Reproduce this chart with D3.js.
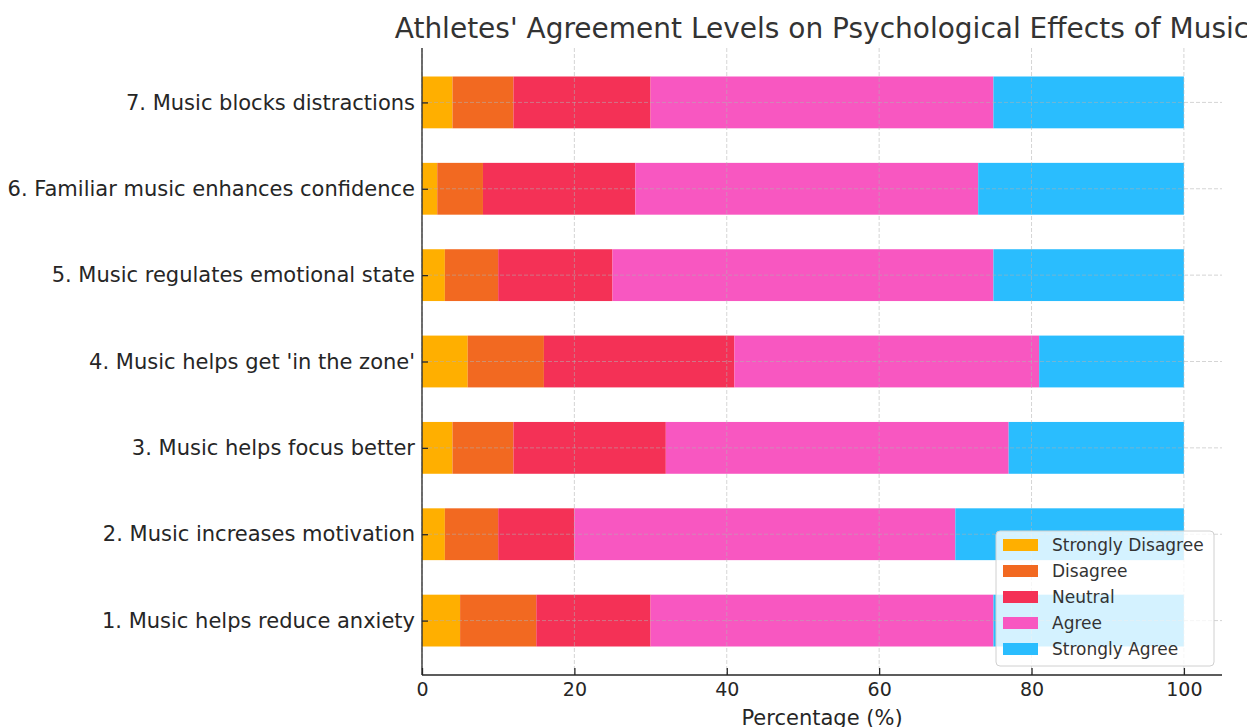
<!DOCTYPE html>
<html>
<head>
<meta charset="utf-8">
<script src="https://cdn.jsdelivr.net/npm/d3@7"></script>
<style>
  body { margin: 0; background: #fff; }
  text { font-family: "DejaVu Sans", sans-serif; fill: #262626; }
</style>
</head>
<body>
<div id="chart"></div>
<script>
var statements = [
  "1. Music helps reduce anxiety",
  "2. Music increases motivation",
  "3. Music helps focus better",
  "4. Music helps get 'in the zone'",
  "5. Music regulates emotional state",
  "6. Familiar music enhances confidence",
  "7. Music blocks distractions"
];
var levels = ["Strongly Disagree", "Disagree", "Neutral", "Agree", "Strongly Agree"];
var levelColors = ["#ffaf00", "#f26921", "#f43156", "#f857c1", "#2abdfe"];

// percentages per statement, same order as statements
var stronglyDisagree = [5, 3, 4, 6, 3, 2, 4];
var disagree = [10, 7, 8, 10, 7, 6, 8];
var neutral = [15, 10, 20, 25, 15, 20, 18];
var agree = [45, 50, 45, 40, 50, 45, 45];
var stronglyAgree = [25, 30, 23, 19, 25, 27, 25];

var xTicks = [0, 20, 40, 60, 80, 100];

var margin = { top: 48, right: 25, bottom: 52, left: 422 };
var width = 1247 - margin.left - margin.right,
  height = 727 - margin.top - margin.bottom;

var svg = d3.select("#chart").append("svg")
  .attr("width", 1247)
  .attr("height", 727);

var g = svg.append("g")
  .attr("transform", "translate(" + margin.left + "," + margin.top + ")");

var rows = statements.map(function(s, i) {
  return {
    name: s,
    "Strongly Disagree": stronglyDisagree[i],
    "Disagree": disagree[i],
    "Neutral": neutral[i],
    "Agree": agree[i],
    "Strongly Agree": stronglyAgree[i]
  };
});
var series = d3.stack().keys(levels)(rows);

var x = d3.scaleLinear().domain([0, 105]).range([0, width]);
// matplotlib style: bar height 0.6, 5% margin
var y = d3.scaleLinear().domain([-0.63, 6.63]).range([height, 0]);
var barH = y(0) - y(0.6);

var color = d3.scaleOrdinal().domain(levels).range(levelColors);

// bars
g.selectAll("g.layer")
  .data(series)
  .enter().append("g")
  .attr("class", "layer")
  .attr("fill", function(d) { return color(d.key); })
  .selectAll("rect")
  .data(function(d) { return d; })
  .enter().append("rect")
  .attr("x", function(d) { return x(d[0]); })
  .attr("y", function(d, i) { return y(i) - barH / 2; })
  .attr("width", function(d) { return x(d[1]) - x(d[0]); })
  .attr("height", barH);

// grid on top of bars
var grid = g.append("g").attr("class", "grid");
grid.selectAll("line.gx")
  .data(xTicks)
  .enter().append("line")
  .attr("x1", function(d) { return x(d); })
  .attr("x2", function(d) { return x(d); })
  .attr("y1", 0)
  .attr("y2", height);
grid.selectAll("line.gy")
  .data(statements)
  .enter().append("line")
  .attr("x1", 0)
  .attr("x2", width)
  .attr("y1", function(d, i) { return y(i); })
  .attr("y2", function(d, i) { return y(i); });
grid.selectAll("line")
  .attr("stroke", "#b0b0b0")
  .attr("stroke-opacity", 0.6)
  .attr("stroke-width", 0.9)
  .attr("stroke-dasharray", "4,2");

// axes (ticks point inward)
var xAxis = d3.axisBottom(x).tickValues(xTicks).tickSize(-7).tickPadding(8);
var gx = g.append("g")
  .attr("transform", "translate(0," + height + ")")
  .call(xAxis);
gx.selectAll("text").style("font-size", "19px");

var yAxis = d3.axisLeft(y)
  .tickValues(d3.range(statements.length))
  .tickFormat(function(d) { return statements[d]; })
  .tickSize(-6).tickPadding(7);
var gy = g.append("g").call(yAxis);
gy.selectAll("text").style("font-size", "21px");

[gx, gy].forEach(function(a) {
  a.select(".domain").attr("stroke", "#262626").attr("stroke-width", 1.3);
  a.selectAll(".tick line").attr("stroke", "#262626").attr("stroke-width", 1.3);
});
gy.select(".domain").attr("d", "M0,0V" + height);
gx.select(".domain").attr("d", "M0,0H" + width);

// title
svg.append("text")
  .attr("x", margin.left + width / 2)
  .attr("y", 38)
  .attr("text-anchor", "middle")
  .style("font-size", "28px")
  .style("fill", "#333")
  .text("Athletes' Agreement Levels on Psychological Effects of Music");

// x label
svg.append("text")
  .attr("x", margin.left + width / 2)
  .attr("y", 725)
  .attr("text-anchor", "middle")
  .style("font-size", "21px")
  .text("Percentage (%)");

// legend
var lg = g.append("g")
  .attr("transform", "translate(" + (x(105) - 226) + "," + (height - 144) + ")");
lg.append("rect")
  .attr("width", 218)
  .attr("height", 135)
  .attr("rx", 4)
  .attr("fill", "#fff")
  .attr("fill-opacity", 0.8)
  .attr("stroke", "#d0d0d0");
var items = lg.selectAll("g.item")
  .data(levels)
  .enter().append("g")
  .attr("transform", function(d, i) { return "translate(7," + (8 + i * 26) + ")"; });
items.append("rect")
  .attr("width", 35)
  .attr("height", 12)
  .attr("fill", function(d) { return color(d); });
items.append("text")
  .attr("x", 49)
  .attr("y", 12)
  .style("font-size", "17px")
  .style("fill", "#333")
  .text(function(d) { return d; });
</script>
</body>
</html>
